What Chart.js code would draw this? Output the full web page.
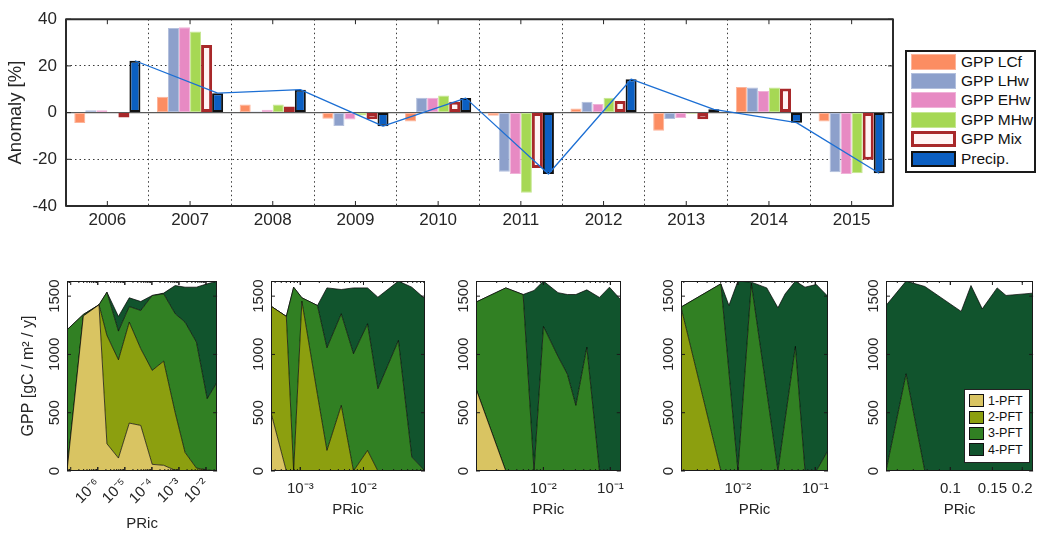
<!DOCTYPE html>
<html>
<head>
<meta charset="utf-8">
<script src="https://cdn.jsdelivr.net/npm/chart.js@4.4.1/dist/chart.umd.min.js"></script>
<style>
  html, body { margin: 0; padding: 0; background: #fff; width: 1040px; height: 536px; overflow: hidden;
    font-family: "Liberation Sans", Arial, Helvetica, sans-serif; color: #111; }
  canvas { position: absolute; }
  .legend { position: absolute; background: #fff; box-sizing: border-box; }
  #legTop { left: 905px; top: 50px; width: 131px; height: 123px; border: 2px solid #1a1a1a;
    padding: 0 0 0 4px; font-size: 15.5px; }
  #legTop .row { height: 19.4px; display: flex; align-items: center; white-space: nowrap; }
  #legTop .sw { width: 45px; height: 16px; box-sizing: border-box; margin-right: 5px; flex: none; }
  #legPft { left: 964px; top: 389px; width: 66px; height: 74px; border: 1px solid #222;
    padding: 2.5px 0 0 4px; font-size: 12.5px; }
  #legPft .row { height: 16.4px; display: flex; align-items: center; white-space: nowrap; }
  #legPft .sw { width: 15px; height: 13px; box-sizing: border-box; margin-right: 4px; border: 1px solid #111; flex: none; }
</style>
</head>
<body>
<canvas id="anom" width="900" height="240" style="left:0;top:0;width:900px;height:240px"></canvas>
<canvas id="pA"></canvas>
<canvas id="pB"></canvas>
<canvas id="pC"></canvas>
<canvas id="pD"></canvas>
<canvas id="pE"></canvas>
<div id="legTop" class="legend"></div>
<div id="legPft" class="legend"></div>

<script>
// ---------- Annual anomalies (%) ----------
const years   = ['2006', '2007', '2008', '2009', '2010', '2011', '2012', '2013', '2014', '2015'];
const gppLCf  = [-4.5, 6.8, 3.5, -2.6, -3.8, -1.3, 1.8, -7.8, 11.0, -3.8];
const gppLHw  = [1.0, 36.2, 0.5, -5.7, 6.4, -25.3, 4.7, -2.7, 10.7, -25.5];
const gppEHw  = [1.0, 36.5, 1.2, -3.0, 6.4, -26.3, 3.7, -2.3, 9.2, -26.3];
const gppMHw  = [0.3, 34.7, 3.5, -1.2, 7.3, -34.3, 6.4, -0.5, 10.7, -26.0];
const gppMix  = [-2.1, 28.9, 2.6, -2.9, 4.6, -23.7, 5.0, -2.9, 10.3, -20.2];
const precip  = [22.2, 8.3, 9.8, -5.8, 6.2, -26.3, 14.3, 1.4, -4.3, -26.0];
const anomalyTicks = [-40, -20, 0, 20, 40];

// ---------- GPP by number of PFTs against PRic, five panels ----------
const gppTicks = [0, 500, 1000, 1500];

const pricA = [7.28e-8, 2.92e-7, 1.11e-6, 2.18e-6, 5.81e-6, 1.46e-5, 3.88e-5, 1.03e-4, 2.73e-4, 7.28e-4, 1.68e-3, 4.44e-3, 1.11e-2, 2.58e-2];
const gppA1 = [0, 1330, 1426, 234, 111, 411, 391, 57, 49, 6, 0, 0, 0, 0];
const gppA2 = [0, 0, 0, 929, 843, 866, 658, 806, 894, 494, 160, 25, 10, 0];
const gppA3 = [1211, 13, 0, 371, 246, 134, 328, 643, 577, 849, 1117, 1081, 610, 763];
const gppA4 = [0, 0, 0, 0, 126, 75, 77, 0, 6, 242, 300, 471, 986, 866];
const pricTicksA = [1e-6, 1e-5, 1e-4, 1e-3, 1e-2];

const pricB = [3.44e-4, 6.01e-4, 7.85e-4, 1.06e-3, 1.87e-3, 2.64e-3, 4.45e-3, 6.95e-3, 1.16e-2, 1.69e-2, 3.57e-2, 5.81e-2, 9.40e-2];
const gppB1 = [500, 0, 0, 0, 0, 0, 0, 0, 0, 0, 0, 0, 0];
const gppB2 = [914, 1326, 0, 1457, 654, 177, 563, 0, 177, 0, 0, 0, 0];
const gppB3 = [0, 0, 1577, 29, 766, 880, 786, 1006, 1086, 706, 1120, 120, 0];
const gppB4 = [0, 0, 0, 0, 0, 514, 208, 565, 308, 785, 509, 1457, 1477];
const pricTicksB = [1e-3, 1e-2];

const pricC = [9.82e-4, 2.74e-3, 4.97e-3, 7.23e-3, 1.00e-2, 1.65e-2, 2.28e-2, 3.05e-2, 4.45e-2, 6.87e-2, 9.68e-2, 0.143];
const gppC1 = [706, 0, 0, 0, 0, 0, 0, 0, 0, 0, 0, 0];
const gppC2 = [0, 0, 0, 0, 0, 0, 0, 0, 0, 0, 0, 0];
const gppC3 = [743, 1571, 1514, 0, 1240, 983, 830, 563, 1063, 0, 0, 0];
const gppC4 = [0, 0, 0, 1549, 389, 547, 684, 951, 491, 1489, 1577, 1469];
const pricTicksC = [1e-2, 1e-1];

const pricD = [1.84e-3, 6.03e-3, 7.66e-3, 1.00e-2, 1.49e-2, 2.36e-2, 3.29e-2, 4.08e-2, 5.53e-2, 7.36e-2, 0.103, 0.146];
const gppD1 = [0, 0, 0, 0, 0, 0, 0, 0, 0, 0, 0, 0];
const gppD2 = [1406, 0, 0, 0, 0, 0, 0, 0, 0, 0, 0, 0];
const gppD3 = [0, 1606, 849, 0, 1611, 680, 0, 446, 1069, 0, 0, 177];
const gppD4 = [0, 0, 571, 1629, 9, 891, 1400, 1074, 560, 1577, 1600, 1320];
const pricTicksD = [1e-2, 1e-1];

const pricE = [5.38e-2, 6.53e-2, 7.82e-2, 0.111, 0.122, 0.136, 0.157, 0.171, 0.222];
const gppE1 = [0, 0, 0, 0, 0, 0, 0, 0, 0];
const gppE2 = [0, 0, 0, 0, 0, 0, 0, 0, 0];
const gppE3 = [0, 834, 0, 0, 0, 0, 0, 0, 0];
const gppE4 = [1420, 795, 1583, 1369, 1591, 1391, 1571, 1506, 1526];
const pricTicksE = [0.1, 0.15, 0.2];

// ---------- styling ----------
const FONT = '"Liberation Sans", Arial, Helvetica, sans-serif';
Chart.defaults.font.family = FONT;
Chart.defaults.color = '#262626';

const seriesNames = ['GPP LCf', 'GPP LHw', 'GPP EHw', 'GPP MHw', 'GPP Mix', 'Precip.'];
const seriesFill  = ['#fc8d62', '#8da0cb', '#e78ac3', '#a6d854', '#fff4f4', '#0b5fc2'];
const seriesEdge  = ['#fdb49a', '#b3c0dd', '#f0b2d8', '#c6e792', '#a8282a', '#111111'];
const seriesEdgeW = [1, 1, 1, 1, 3, 2];
const seriesData  = [gppLCf, gppLHw, gppEHw, gppMHw, gppMix, precip];
const PRECIP_INDEX = 5;

const pftNames   = ['1-PFT', '2-PFT', '3-PFT', '4-PFT'];
const pftColours = ['#d9c462', '#8c9f0f', '#318023', '#11542d'];

function seg(ctx, x1, y1, x2, y2) { ctx.beginPath(); ctx.moveTo(x1, y1); ctx.lineTo(x2, y2); ctx.stroke(); }

// frame, zero line, inward tick marks and the precipitation path joining the precipitation bar ends
const anomAxesBox = {
  id: 'anomAxesBox',
  beforeDatasetsDraw(chart) {
    const { ctx, chartArea: a, scales: { y } } = chart;
    const y0 = y.getPixelForValue(0);
    ctx.save(); ctx.strokeStyle = '#5a5a5a'; ctx.lineWidth = 1.2;
    seg(ctx, a.left, y0, a.right, y0); ctx.restore();
  },
  afterDatasetsDraw(chart) {
    const { ctx, chartArea: a, scales: { x, y } } = chart;
    ctx.save();
    const bars = chart.getDatasetMeta(PRECIP_INDEX).data;
    ctx.strokeStyle = '#1c6fd4'; ctx.lineWidth = 1.3; ctx.lineJoin = 'round';
    ctx.beginPath();
    bars.forEach((b, i) => { if (i === 0) ctx.moveTo(b.x, b.y); else ctx.lineTo(b.x, b.y); });
    ctx.stroke();

    ctx.strokeStyle = '#262626'; ctx.lineWidth = 1;
    const L = 5;
    y.ticks.forEach(t => {
      const py = y.getPixelForValue(t.value);
      seg(ctx, a.left, py, a.left + L, py); seg(ctx, a.right - L, py, a.right, py);
    });
    x.ticks.forEach((t, i) => {
      const px = x.getPixelForTick(i);
      seg(ctx, px, a.top, px, a.top + L); seg(ctx, px, a.bottom - L, px, a.bottom);
    });
    ctx.lineWidth = 2; ctx.strokeStyle = '#2b2b2b';
    ctx.strokeRect(a.left, a.top, a.right - a.left, a.bottom - a.top);
    ctx.restore();
  }
};

new Chart(document.getElementById('anom'), {
  type: 'bar',
  data: {
    labels: years,
    datasets: seriesData.map((v, i) => ({
      label: seriesNames[i], data: v,
      backgroundColor: seriesFill[i], borderColor: seriesEdge[i], borderWidth: seriesEdgeW[i],
      borderSkipped: false, categoryPercentage: 0.8, barPercentage: 1
    }))
  },
  options: {
    responsive: false, animation: false,
    layout: { padding: { top: 14, right: 7, left: 0, bottom: 0 } },
    plugins: { legend: { display: false }, tooltip: { enabled: false } },
    scales: {
      x: {
        type: 'category', offset: true,
        grid: { offset: true, color: '#3a3a3a', lineWidth: 1, drawTicks: false },
        border: { display: false, dash: [1.5, 3] },
        ticks: { padding: 4, font: { size: 17 }, color: '#262626' },
        afterFit(s) { s.height = 34; }
      },
      y: {
        min: anomalyTicks[0], max: anomalyTicks[anomalyTicks.length - 1],
        afterBuildTicks(s) { s.ticks = anomalyTicks.map(v => ({ value: v })); },
        ticks: { padding: 9, font: { size: 17 }, color: '#262626' },
        grid: { drawTicks: false, lineWidth: 1,
                color: c => (c.tick && c.tick.value === 0) ? 'rgba(0,0,0,0)' : '#3a3a3a' },
        border: { display: false, dash: [1.5, 3] },
        title: { display: true, text: 'Anomaly [%]', font: { size: 18.5 }, color: '#262626',
                 padding: { top: 5, bottom: 0 } },
        afterFit(s) { s.width = 66; }
      }
    }
  },
  plugins: [anomAxesBox]
});

// ---------- legend of the anomaly chart ----------
const legTop = document.getElementById('legTop');
seriesNames.forEach((name, i) => {
  const row = document.createElement('div'); row.className = 'row';
  const sw = document.createElement('span'); sw.className = 'sw';
  sw.style.background = seriesFill[i];
  sw.style.border = seriesEdgeW[i] + 'px solid ' + seriesEdge[i];
  const tx = document.createElement('span'); tx.textContent = name;
  row.appendChild(sw); row.appendChild(tx); legTop.appendChild(row);
});

// ---------- PRic panels ----------
const SUP = { '-': '\u207B', '0': '\u2070', '1': '\u00B9', '2': '\u00B2', '3': '\u00B3',
              '4': '\u2074', '5': '\u2075', '6': '\u2076', '7': '\u2077', '8': '\u2078', '9': '\u2079' };
const powerLabel = v => '10' + String(Math.round(Math.log10(v))).split('').map(c => SUP[c]).join('');
const plainLabel = v => String(v);

const GPP_MAX = 1630;
const AXIS_W = 67, PAD_R = 4, CANVAS_TOP = 240, CANVAS_H = 296;

const panels = [
  { id: 'pA', x: pricA, layers: [gppA1, gppA2, gppA3, gppA4], ticks: pricTicksA, fmt: powerLabel, left: 67,  right: 219, rot: 45, yTitle: true },
  { id: 'pB', x: pricB, layers: [gppB1, gppB2, gppB3, gppB4], ticks: pricTicksB, fmt: powerLabel, left: 271, right: 425, rot: 0,  yTitle: false },
  { id: 'pC', x: pricC, layers: [gppC1, gppC2, gppC3, gppC4], ticks: pricTicksC, fmt: powerLabel, left: 476, right: 629, rot: 0,  yTitle: false },
  { id: 'pD', x: pricD, layers: [gppD1, gppD2, gppD3, gppD4], ticks: pricTicksD, fmt: powerLabel, left: 681, right: 834, rot: 0,  yTitle: false },
  { id: 'pE', x: pricE, layers: [gppE1, gppE2, gppE3, gppE4], ticks: pricTicksE, fmt: plainLabel, left: 886, right: 1038, rot: 0, yTitle: false }
];

// frame with inward major/minor tick marks, and upright-rotated GPP tick labels
const panelBox = {
  id: 'panelBox',
  afterDatasetsDraw(chart) {
    const { ctx, chartArea: a, scales: { x, y } } = chart;
    ctx.save();
    ctx.strokeStyle = '#1a1a1a'; ctx.lineWidth = 1;
    const L = 4, l = 2;
    y.ticks.forEach(t => {
      const py = y.getPixelForValue(t.value);
      seg(ctx, a.left, py, a.left + L, py); seg(ctx, a.right - L, py, a.right, py);
    });
    const lo = Math.floor(Math.log10(x.min)), hi = Math.ceil(Math.log10(x.max));
    for (let d = lo; d <= hi; d++) {
      for (let k = 1; k <= 9; k++) {
        const v = k * Math.pow(10, d);
        if (v < x.min || v > x.max) continue;
        const px = x.getPixelForValue(v);
        const len = k === 1 ? L : l;
        seg(ctx, px, a.top, px, a.top + len); seg(ctx, px, a.bottom - len, px, a.bottom);
      }
    }
    x.ticks.forEach(t => {
      const px = x.getPixelForValue(t.value);
      seg(ctx, px, a.top, px, a.top + L); seg(ctx, px, a.bottom - L, px, a.bottom);
    });
    ctx.strokeRect(Math.round(a.left) + 0.5, Math.round(a.top) + 0.5,
                   Math.round(a.right - a.left) - 1, Math.round(a.bottom - a.top) - 1);

    ctx.fillStyle = '#262626';
    ctx.font = '15px ' + FONT;
    ctx.textAlign = 'center'; ctx.textBaseline = 'middle';
    y.ticks.forEach(t => {
      const py = y.getPixelForValue(t.value);
      ctx.save();
      ctx.translate(a.left - 12.5, py);
      ctx.rotate(-Math.PI / 2);
      ctx.fillText(String(t.value), 0, 0);
      ctx.restore();
    });
    ctx.restore();
  }
};

panels.forEach(p => {
  const cv = document.getElementById(p.id);
  const w = AXIS_W + (p.right - p.left) + PAD_R;
  cv.width = w; cv.height = CANVAS_H;
  cv.style.width = w + 'px'; cv.style.height = CANVAS_H + 'px';
  cv.style.left = (p.left - AXIS_W) + 'px'; cv.style.top = CANVAS_TOP + 'px';

  new Chart(cv, {
    type: 'line',
    data: {
      datasets: p.layers.map((vals, k) => ({
        label: pftNames[k],
        data: p.x.map((xv, i) => ({ x: xv, y: vals[i] })),
        backgroundColor: pftColours[k], borderColor: '#000', borderWidth: 0.7,
        pointRadius: 0, tension: 0, fill: k === 0 ? 'origin' : '-1'
      }))
    },
    options: {
      responsive: false, animation: false,
      layout: { padding: { top: 281 - CANVAS_TOP, right: PAD_R, left: 0, bottom: 0 } },
      plugins: { legend: { display: false }, tooltip: { enabled: false } },
      scales: {
        x: {
          type: 'logarithmic', bounds: 'data', min: p.x[0], max: p.x[p.x.length - 1],
          afterBuildTicks(s) { s.ticks = p.ticks.map(v => ({ value: v })); },
          ticks: { autoSkip: false, minRotation: p.rot, maxRotation: p.rot, padding: p.rot ? 4 : 9,
                   font: { size: 15 }, color: '#262626', callback: v => p.fmt(v) },
          grid: { display: false, drawTicks: false }, border: { display: false },
          title: { display: true, text: 'PRic', font: { size: 15 }, color: '#262626',
                   padding: { top: 0, bottom: p.rot ? 3 : 17 } },
          afterFit(s) { s.height = CANVAS_H - (471 - CANVAS_TOP); }
        },
        y: {
          stacked: true, min: 0, max: GPP_MAX,
          afterBuildTicks(s) { s.ticks = gppTicks.map(v => ({ value: v })); },
          ticks: { display: false },
          grid: { display: false, drawTicks: false }, border: { display: false },
          title: { display: p.yTitle, text: 'GPP [gC / m\u00B2 / y]', font: { size: 16 }, color: '#262626',
                   padding: { top: 19, bottom: 0 } },
          afterFit(s) { s.width = AXIS_W; }
        }
      }
    },
    plugins: [panelBox]
  });
});

// ---------- PFT legend ----------
const legPft = document.getElementById('legPft');
pftNames.forEach((name, i) => {
  const row = document.createElement('div'); row.className = 'row';
  const sw = document.createElement('span'); sw.className = 'sw';
  sw.style.background = pftColours[i];
  const tx = document.createElement('span'); tx.textContent = name;
  row.appendChild(sw); row.appendChild(tx); legPft.appendChild(row);
});
</script>
</body>
</html>
